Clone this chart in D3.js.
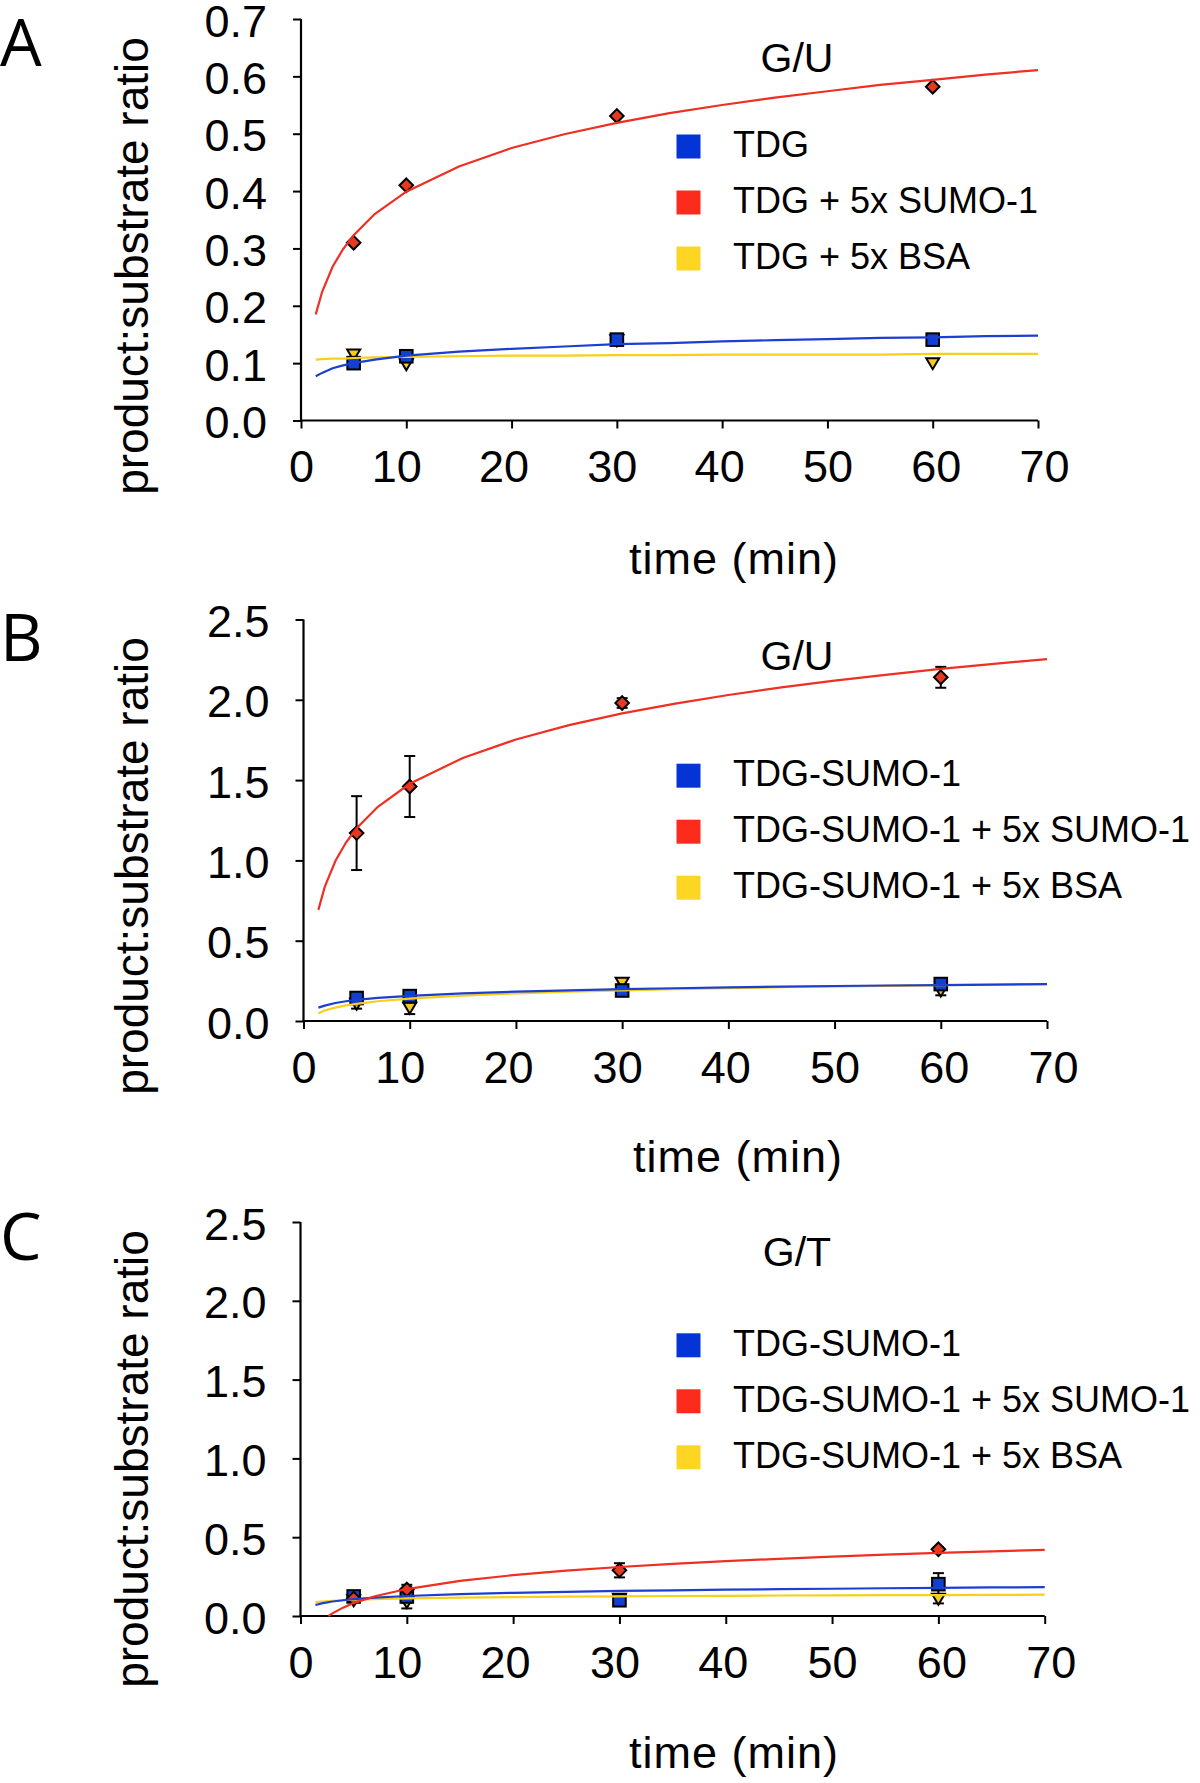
<!DOCTYPE html>
<html><head><meta charset="utf-8">
<script src="https://cdn.jsdelivr.net/npm/d3@7"></script>
<style>body{margin:0;background:#fff}svg{display:block}</style>
</head><body>
<script>
// ---------- DATA ----------
const times = [5, 10, 30, 60];
const xTicks = [0, 10, 20, 30, 40, 50, 60, 70];
const yTicksA = [0, 0.1, 0.2, 0.3, 0.4, 0.5, 0.6, 0.7];
const yTicksBC = [0, 0.5, 1.0, 1.5, 2.0, 2.5];
const namesA = ["TDG", "TDG + 5x SUMO-1", "TDG + 5x BSA"];
const namesBC = ["TDG-SUMO-1", "TDG-SUMO-1 + 5x SUMO-1", "TDG-SUMO-1 + 5x BSA"];
const titles = ["G/U", "G/U", "G/T"];
const letters = ["A", "B", "C"];

// measured points (panel A: no error bars)
const aBlue = [0.100, 0.112, 0.141, 0.141];
const aRed = [0.310, 0.410, 0.531, 0.582];
const aYellow = [0.115, 0.098, 0.140, 0.100];

const bBlue = [0.143, 0.155, 0.190, 0.230];
const bBlueErr = [0.03, 0.03, 0.03, 0.03];
const bRed = [1.17, 1.46, 1.98, 2.14];
const bRedErr = [0.23, 0.19, 0.03, 0.065];
const bYellow = [0.107, 0.083, 0.238, 0.190];
const bYellowErr = [0.03, 0.04, 0.02, 0.03];

const cBlue = [0.124, 0.124, 0.100, 0.202];
const cBlueErr = [0.02, 0.04, 0.02, 0.07];
const cRed = [0.110, 0.168, 0.290, 0.423];
const cRedErr = [0.02, 0.03, 0.045, 0.015];
const cYellow = [0.100, 0.088, 0.110, 0.110];
const cYellowErr = [0.01, 0.04, 0.01, 0.03];

// trend lines
const fitT = [1.4, 2, 3, 4, 5, 7, 10, 15, 20, 25, 30, 35, 40, 45, 50, 55, 60, 65, 70];
const aRedFit = [0.185, 0.224, 0.268, 0.299, 0.323, 0.360, 0.399, 0.443, 0.475, 0.499, 0.519, 0.536, 0.550, 0.563, 0.574, 0.585, 0.594, 0.603, 0.611];
const aBlueFit = [0.077, 0.083, 0.091, 0.096, 0.100, 0.106, 0.113, 0.120, 0.125, 0.129, 0.133, 0.135, 0.138, 0.140, 0.142, 0.144, 0.145, 0.147, 0.148];
const aYellowFit = [0.106, 0.107, 0.108, 0.108, 0.109, 0.110, 0.111, 0.112, 0.113, 0.113, 0.114, 0.114, 0.115, 0.115, 0.115, 0.115, 0.116, 0.116, 0.116];

const bRedFit = [0.692, 0.835, 0.996, 1.111, 1.200, 1.334, 1.477, 1.638, 1.753, 1.842, 1.915, 1.976, 2.030, 2.077, 2.119, 2.157, 2.192, 2.224, 2.253];
const bBlueFit = [0.083, 0.096, 0.112, 0.123, 0.131, 0.144, 0.157, 0.172, 0.183, 0.191, 0.198, 0.204, 0.209, 0.214, 0.218, 0.221, 0.224, 0.227, 0.230];
const bYellowFit = [0.048, 0.065, 0.083, 0.097, 0.107, 0.123, 0.139, 0.158, 0.172, 0.182, 0.191, 0.198, 0.204, 0.210, 0.214, 0.219, 0.223, 0.227, 0.230];

const cRedT = [2.63, 3, 4, 5, 7, 10, 15, 20, 25, 30, 35, 40, 45, 50, 55, 60, 65, 70];
const cRedFit = [0.0, 0.017, 0.053, 0.082, 0.125, 0.171, 0.223, 0.259, 0.288, 0.311, 0.331, 0.348, 0.363, 0.377, 0.389, 0.400, 0.410, 0.420];
const cBlueFit = [0.070, 0.080, 0.092, 0.100, 0.107, 0.117, 0.127, 0.139, 0.147, 0.153, 0.159, 0.163, 0.167, 0.170, 0.173, 0.176, 0.179, 0.181, 0.183];
const cYellowFit = [0.088, 0.092, 0.096, 0.100, 0.103, 0.107, 0.112, 0.117, 0.120, 0.123, 0.125, 0.127, 0.128, 0.130, 0.131, 0.132, 0.133, 0.134, 0.135];

// ---------- STYLE / LAYOUT ----------
const COL = {
  blue:   {legend: "#0433d6", line: "#1c3fd2", fill: "#1040d0"},
  red:    {legend: "#fc2b1c", line: "#ee2f22", fill: "#e53a20"},
  yellow: {legend: "#fdd623", line: "#f8cf1c", fill: "#f6c91c"}
};
const FONT = "'Liberation Sans', Arial, Helvetica, sans-serif";
// small horizontal nudges of the x tick labels as placed in the original figure
const xLabelNudge = [0, -10, -8, -5, -3, 0, 3, 6];

const panels = [
  {letter: letters[0], title: titles[0], names: namesA, yTicks: yTicksA, ymax: 0.7, fmt: d3.format(".1f"),
   left: 301, right: 1038, top: 19, bottom: 420.5, titleY: 72, letterY: 66, legendY: 146.5,
   yLabelY: 266, xLabelX: 734, xLabelY: 574,
   series: [
     {c: "yellow", shape: "tri", v: aYellow, err: null, fitT: fitT, fit: aYellowFit},
     {c: "blue", shape: "sq", v: aBlue, err: null, fitT: fitT, fit: aBlueFit},
     {c: "red", shape: "dia", v: aRed, err: null, fitT: fitT, fit: aRedFit}
   ]},
  {letter: letters[1], title: titles[1], names: namesBC, yTicks: yTicksBC, ymax: 2.5, fmt: d3.format(".1f"),
   left: 303.5, right: 1047, top: 619.5, bottom: 1021, titleY: 670, letterY: 661, legendY: 775.7,
   yLabelY: 866, xLabelX: 738, xLabelY: 1172,
   series: [
     {c: "yellow", shape: "tri", v: bYellow, err: bYellowErr, fitT: fitT, fit: bYellowFit},
     {c: "blue", shape: "sq", v: bBlue, err: bBlueErr, fitT: fitT, fit: bBlueFit},
     {c: "red", shape: "dia", v: bRed, err: bRedErr, fitT: fitT, fit: bRedFit}
   ]},
  {letter: letters[2], title: titles[2], names: namesBC, yTicks: yTicksBC, ymax: 2.5, fmt: d3.format(".1f"),
   left: 300.5, right: 1044.7, top: 1222, bottom: 1616, titleY: 1266, letterY: 1260, legendY: 1345.3,
   yLabelY: 1459, xLabelX: 734, xLabelY: 1768,
   series: [
     {c: "yellow", shape: "tri", v: cYellow, err: cYellowErr, fitT: fitT, fit: cYellowFit},
     {c: "blue", shape: "sq", v: cBlue, err: cBlueErr, fitT: fitT, fit: cBlueFit},
     {c: "red", shape: "dia", v: cRed, err: cRedErr, fitT: cRedT, fit: cRedFit}
   ]}
];

const svg = d3.select("body").append("svg").attr("width", 1200).attr("height", 1783)
  .style("font-family", FONT);

panels.forEach(p => {
  const x = d3.scaleLinear().domain([0, 70]).range([p.left, p.right]);
  const y = d3.scaleLinear().domain([0, p.ymax]).range([p.bottom, p.top]);
  const g = svg.append("g");

  // axes
  const yAxis = d3.axisLeft(y).tickValues(p.yTicks).tickFormat(p.fmt).tickSize(8).tickPadding(26);
  const xAxis = d3.axisBottom(x).tickValues(xTicks).tickFormat(d3.format("d")).tickSize(8).tickPadding(22);
  const ga = g.append("g").attr("transform", `translate(${p.left},0)`).call(yAxis);
  const gx = g.append("g").attr("transform", `translate(0,${p.bottom})`).call(xAxis);
  [ga, gx].forEach(a => {
    a.select(".domain").attr("stroke", "#000").attr("stroke-width", 2.2);
    a.selectAll(".tick line").attr("stroke", "#000").attr("stroke-width", 2);
    a.selectAll(".tick text").attr("fill", "#000").style("font-size", "45px").style("font-family", FONT);
  });
  ga.select(".domain").attr("d", `M0,${p.bottom}V${p.top}`);
  gx.select(".domain").attr("d", `M${p.left},0H${p.right}`);
  ga.selectAll(".tick text").attr("dy", "0.38em");
  gx.selectAll(".tick text").attr("dy", "0.71em").attr("dx", (d, i) => xLabelNudge[i]);

  // error bars
  p.series.forEach(s => {
    if (!s.err) return;
    const eb = g.append("g").attr("stroke", "#000").attr("stroke-width", 2).attr("fill", "none");
    times.forEach((t, i) => {
      const cx = x(t), y1 = y(s.v[i] + s.err[i]), y0 = y(Math.max(0, s.v[i] - s.err[i]));
      eb.append("line").attr("x1", cx).attr("x2", cx).attr("y1", y1).attr("y2", y0);
      eb.append("line").attr("x1", cx - 5.5).attr("x2", cx + 5.5).attr("y1", y1).attr("y2", y1);
      eb.append("line").attr("x1", cx - 5.5).attr("x2", cx + 5.5).attr("y1", y0).attr("y2", y0);
    });
  });

  // markers
  p.series.forEach(s => {
    const mg = g.append("g").attr("fill", COL[s.c].fill).attr("stroke", "#000").attr("stroke-width", 2);
    times.forEach((t, i) => {
      const cx = x(t), cy = y(s.v[i]);
      if (s.shape === "sq") {
        mg.append("rect").attr("x", cx - 6.3).attr("y", cy - 6.3).attr("width", 12.6).attr("height", 12.6);
      } else if (s.shape === "dia") {
        mg.append("path").attr("d", `M${cx},${cy - 6.8}L${cx + 6.8},${cy}L${cx},${cy + 6.8}L${cx - 6.8},${cy}Z`);
      } else {
        mg.append("path").attr("d", `M${cx - 6.5},${cy - 5}L${cx + 6.5},${cy - 5}L${cx},${cy + 6}Z`);
      }
    });
  });

  // trend lines
  const line = d3.line().x(d => x(d[0])).y(d => y(d[1]));
  ["yellow", "blue", "red"].forEach(c => {
    const s = p.series.find(q => q.c === c);
    g.append("path").datum(s.fitT.map((t, i) => [t, s.fit[i]]))
      .attr("d", line).attr("fill", "none").attr("stroke", COL[c].line).attr("stroke-width", 2.2);
  });

  // title
  g.append("text").attr("x", 797).attr("y", p.titleY).attr("text-anchor", "middle")
    .style("font-size", "41px").text(p.title);

  // legend
  const legCols = ["blue", "red", "yellow"];
  p.names.forEach((n, i) => {
    const cy = p.legendY + i * 56;
    g.append("rect").attr("x", 676.5).attr("y", cy - 12).attr("width", 24).attr("height", 24)
      .attr("fill", COL[legCols[i]].legend);
    g.append("text").attr("x", 733).attr("y", cy + 10.5).style("font-size", "36px").text(n);
  });

  // axis labels
  g.append("text").attr("transform", `translate(148,${p.yLabelY}) rotate(-90)`)
    .attr("text-anchor", "middle").style("font-size", "46px").text("product:substrate ratio");
  g.append("text").attr("x", p.xLabelX).attr("y", p.xLabelY).attr("text-anchor", "middle")
    .style("font-size", "45px").style("letter-spacing", "1px").text("time (min)");

  // panel letter
  g.append("text").attr("x", 0).attr("y", p.letterY)
    .style("font-family", "'Open Sans', 'Noto Sans', sans-serif").style("font-size", "66px").text(p.letter);
});
</script>
</body></html>
